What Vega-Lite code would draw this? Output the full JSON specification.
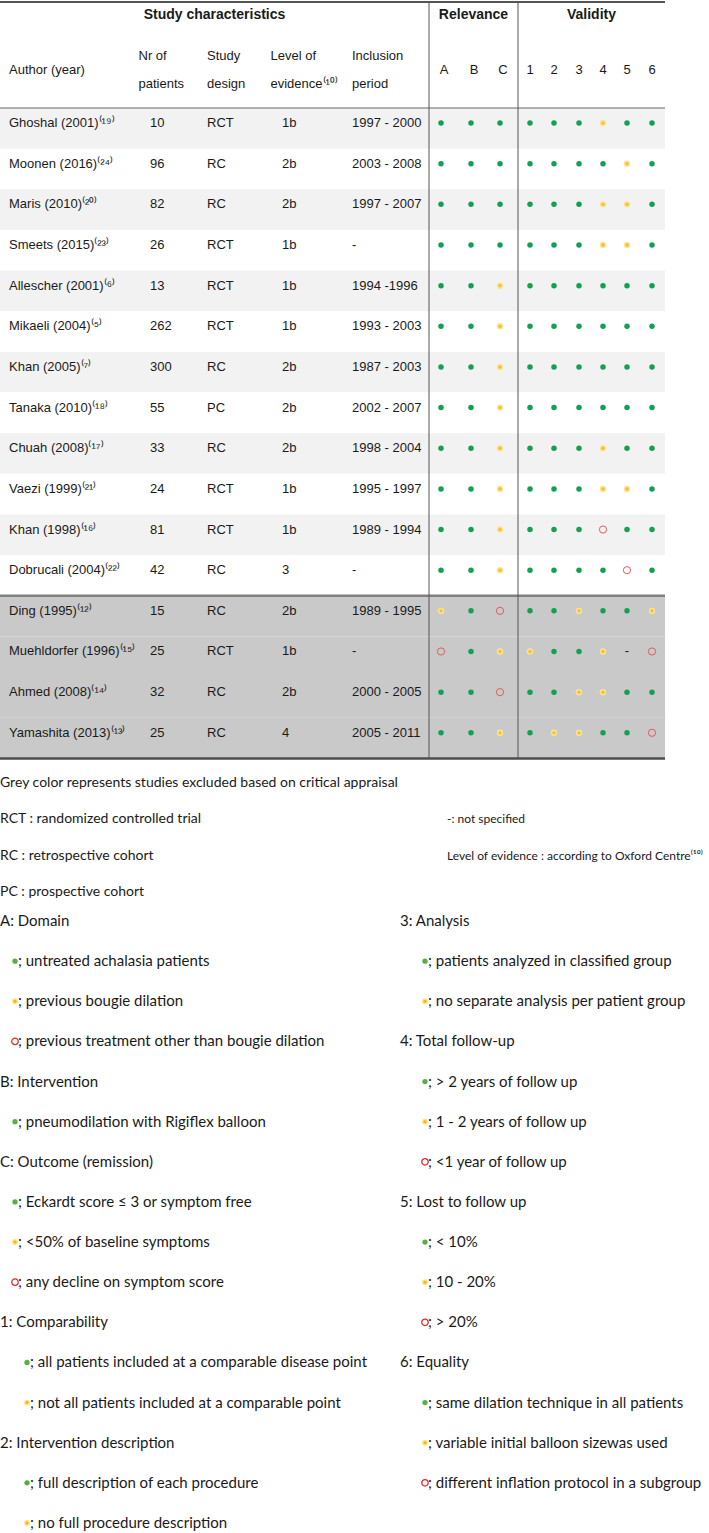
{
  "$schema": "https://vega.github.io/schema/vega-lite/v6.json",
  "width": 709,
  "height": 1533,
  "autosize": {"type": "none"},
  "padding": 0,
  "background": "#ffffff",
  "config": {"view": {"stroke": null}, "legend": {"disable": true}},
  "datasets": {
    "studies": [
      {"study": "Ghoshal (2001)⁽¹⁹⁾", "n": "10", "design": "RCT", "loe": "1b", "period": "1997 - 2000", "status": "included", "A": "met", "B": "met", "C": "met", "v1": "met", "v2": "met", "v3": "met", "v4": "partly", "v5": "met", "v6": "met"},
      {"study": "Moonen (2016)⁽²⁴⁾", "n": "96", "design": "RC", "loe": "2b", "period": "2003 - 2008", "status": "included", "A": "met", "B": "met", "C": "met", "v1": "met", "v2": "met", "v3": "met", "v4": "met", "v5": "partly", "v6": "met"},
      {"study": "Maris (2010)⁽²⁰⁾", "n": "82", "design": "RC", "loe": "2b", "period": "1997 - 2007", "status": "included", "A": "met", "B": "met", "C": "met", "v1": "met", "v2": "met", "v3": "met", "v4": "partly", "v5": "partly", "v6": "met"},
      {"study": "Smeets (2015)⁽²³⁾", "n": "26", "design": "RCT", "loe": "1b", "period": "-", "status": "included", "A": "met", "B": "met", "C": "met", "v1": "met", "v2": "met", "v3": "met", "v4": "partly", "v5": "partly", "v6": "met"},
      {"study": "Allescher (2001)⁽⁶⁾", "n": "13", "design": "RCT", "loe": "1b", "period": "1994 -1996", "status": "included", "A": "met", "B": "met", "C": "partly", "v1": "met", "v2": "met", "v3": "met", "v4": "met", "v5": "met", "v6": "met"},
      {"study": "Mikaeli (2004)⁽⁵⁾", "n": "262", "design": "RCT", "loe": "1b", "period": "1993 - 2003", "status": "included", "A": "met", "B": "met", "C": "partly", "v1": "met", "v2": "met", "v3": "met", "v4": "met", "v5": "met", "v6": "met"},
      {"study": "Khan (2005)⁽⁷⁾", "n": "300", "design": "RC", "loe": "2b", "period": "1987 - 2003", "status": "included", "A": "met", "B": "met", "C": "partly", "v1": "met", "v2": "met", "v3": "met", "v4": "met", "v5": "met", "v6": "met"},
      {"study": "Tanaka (2010)⁽¹⁸⁾", "n": "55", "design": "PC", "loe": "2b", "period": "2002 - 2007", "status": "included", "A": "met", "B": "met", "C": "partly", "v1": "met", "v2": "met", "v3": "met", "v4": "met", "v5": "met", "v6": "met"},
      {"study": "Chuah (2008)⁽¹⁷⁾", "n": "33", "design": "RC", "loe": "2b", "period": "1998 - 2004", "status": "included", "A": "met", "B": "met", "C": "partly", "v1": "met", "v2": "met", "v3": "met", "v4": "partly", "v5": "met", "v6": "met"},
      {"study": "Vaezi (1999)⁽²¹⁾", "n": "24", "design": "RCT", "loe": "1b", "period": "1995 - 1997", "status": "included", "A": "met", "B": "met", "C": "partly", "v1": "met", "v2": "met", "v3": "met", "v4": "partly", "v5": "partly", "v6": "met"},
      {"study": "Khan (1998)⁽¹⁶⁾", "n": "81", "design": "RCT", "loe": "1b", "period": "1989 - 1994", "status": "included", "A": "met", "B": "met", "C": "partly", "v1": "met", "v2": "met", "v3": "met", "v4": "not met", "v5": "met", "v6": "met"},
      {"study": "Dobrucali (2004)⁽²²⁾", "n": "42", "design": "RC", "loe": "3", "period": "-", "status": "included", "A": "met", "B": "met", "C": "partly", "v1": "met", "v2": "met", "v3": "met", "v4": "met", "v5": "not met", "v6": "met"},
      {"study": "Ding (1995)⁽¹²⁾", "n": "15", "design": "RC", "loe": "2b", "period": "1989 - 1995", "status": "excluded", "A": "partly", "B": "met", "C": "not met", "v1": "met", "v2": "met", "v3": "partly", "v4": "met", "v5": "met", "v6": "partly"},
      {"study": "Muehldorfer (1996)⁽¹⁵⁾", "n": "25", "design": "RCT", "loe": "1b", "period": "-", "status": "excluded", "A": "not met", "B": "met", "C": "partly", "v1": "partly", "v2": "met", "v3": "met", "v4": "partly", "v5": "not specified", "v6": "not met"},
      {"study": "Ahmed (2008)⁽¹⁴⁾", "n": "32", "design": "RC", "loe": "2b", "period": "2000 - 2005", "status": "excluded", "A": "met", "B": "met", "C": "not met", "v1": "met", "v2": "met", "v3": "partly", "v4": "partly", "v5": "met", "v6": "met"},
      {"study": "Yamashita (2013)⁽¹³⁾", "n": "25", "design": "RC", "loe": "4", "period": "2005 - 2011", "status": "excluded", "A": "met", "B": "met", "C": "partly", "v1": "met", "v2": "partly", "v3": "partly", "v4": "met", "v5": "met", "v6": "not met"}
    ],
    "columns": [
      {"key": "study", "label": "Author (year)", "group": "Study characteristics", "slot": 1},
      {"key": "n", "label": "Nr of\npatients", "group": "Study characteristics", "slot": 2},
      {"key": "design", "label": "Study\ndesign", "group": "Study characteristics", "slot": 3},
      {"key": "loe", "label": "Level of\nevidence⁽¹⁰⁾", "group": "Study characteristics", "slot": 5},
      {"key": "period", "label": "Inclusion\nperiod", "group": "Study characteristics", "slot": 6},
      {"key": "A", "label": "A", "group": "Relevance", "slot": 8},
      {"key": "B", "label": "B", "group": "Relevance", "slot": 9},
      {"key": "C", "label": "C", "group": "Relevance", "slot": 11},
      {"key": "v1", "label": "1", "group": "Validity", "slot": 13},
      {"key": "v2", "label": "2", "group": "Validity", "slot": 14},
      {"key": "v3", "label": "3", "group": "Validity", "slot": 15},
      {"key": "v4", "label": "4", "group": "Validity", "slot": 17},
      {"key": "v5", "label": "5", "group": "Validity", "slot": 18},
      {"key": "v6", "label": "6", "group": "Validity", "slot": 19}
    ],
    "sections": [
      {"section": "Study characteristics", "titleSlot": 4, "startSlot": 0, "endSlot": 7},
      {"section": "Relevance", "titleSlot": 10, "startSlot": 7, "endSlot": 12},
      {"section": "Validity", "titleSlot": 16, "startSlot": 12, "endSlot": 20}
    ],
    "notes": [
      {"text": "Grey color represents studies excluded based on critical appraisal", "side": "left", "line": 1},
      {"text": "RCT : randomized controlled trial", "side": "left", "line": 2},
      {"text": "RC : retrospective cohort", "side": "left", "line": 3},
      {"text": "PC : prospective cohort", "side": "left", "line": 4},
      {"text": "-: not specified", "side": "right", "line": 2},
      {"text": "Level of evidence : according to Oxford Centre⁽¹⁰⁾", "side": "right", "line": 3}
    ],
    "key": [
      {"side": "left", "line": 5, "indent": 0, "symbol": "none", "text": "A: Domain"},
      {"side": "left", "line": 6, "indent": 1, "symbol": "met", "text": "; untreated achalasia patients"},
      {"side": "left", "line": 7, "indent": 1, "symbol": "partly", "text": "; previous bougie dilation"},
      {"side": "left", "line": 8, "indent": 1, "symbol": "not met", "text": "; previous treatment other than bougie dilation"},
      {"side": "left", "line": 9, "indent": 0, "symbol": "none", "text": "B: Intervention"},
      {"side": "left", "line": 10, "indent": 1, "symbol": "met", "text": "; pneumodilation with Rigiflex balloon"},
      {"side": "left", "line": 11, "indent": 0, "symbol": "none", "text": "C: Outcome (remission)"},
      {"side": "left", "line": 12, "indent": 1, "symbol": "met", "text": "; Eckardt score ≤ 3 or symptom free"},
      {"side": "left", "line": 13, "indent": 1, "symbol": "partly", "text": "; <50% of baseline symptoms"},
      {"side": "left", "line": 14, "indent": 1, "symbol": "not met", "text": "; any decline on symptom score"},
      {"side": "left", "line": 15, "indent": 0, "symbol": "none", "text": "1: Comparability"},
      {"side": "left", "line": 16, "indent": 2, "symbol": "met", "text": "; all patients included at a comparable disease point"},
      {"side": "left", "line": 17, "indent": 2, "symbol": "partly", "text": "; not all patients included at a comparable point"},
      {"side": "left", "line": 18, "indent": 0, "symbol": "none", "text": "2: Intervention description"},
      {"side": "left", "line": 19, "indent": 2, "symbol": "met", "text": "; full description of each procedure"},
      {"side": "left", "line": 20, "indent": 2, "symbol": "partly", "text": "; no full procedure description"},
      {"side": "right", "line": 5, "indent": 0, "symbol": "none", "text": "3: Analysis"},
      {"side": "right", "line": 6, "indent": 1, "symbol": "met", "text": "; patients analyzed in classified group"},
      {"side": "right", "line": 7, "indent": 1, "symbol": "partly", "text": "; no separate analysis per patient group"},
      {"side": "right", "line": 8, "indent": 0, "symbol": "none", "text": "4: Total follow-up"},
      {"side": "right", "line": 9, "indent": 1, "symbol": "met", "text": "; > 2 years of follow up"},
      {"side": "right", "line": 10, "indent": 1, "symbol": "partly", "text": "; 1 - 2 years of follow up"},
      {"side": "right", "line": 11, "indent": 1, "symbol": "not met", "text": "; <1 year of follow up"},
      {"side": "right", "line": 12, "indent": 0, "symbol": "none", "text": "5: Lost to follow up"},
      {"side": "right", "line": 13, "indent": 1, "symbol": "met", "text": "; < 10%"},
      {"side": "right", "line": 14, "indent": 1, "symbol": "partly", "text": "; 10 - 20%"},
      {"side": "right", "line": 15, "indent": 1, "symbol": "not met", "text": "; > 20%"},
      {"side": "right", "line": 16, "indent": 0, "symbol": "none", "text": "6: Equality"},
      {"side": "right", "line": 17, "indent": 1, "symbol": "met", "text": "; same dilation technique in all patients"},
      {"side": "right", "line": 18, "indent": 1, "symbol": "partly", "text": "; variable initial balloon sizewas used"},
      {"side": "right", "line": 19, "indent": 1, "symbol": "not met", "text": "; different inflation protocol in a subgroup"}
    ]
  },
  "layer": [
    {
      "data": {"name": "studies"},
      "layer": [
        {
          "transform": [{"window": [{"op": "row_number", "as": "k"}]}],
          "mark": {"type": "rect"},
          "encoding": {
            "y": {"field": "study", "type": "nominal", "sort": null, "axis": null, "scale": {"type": "band", "range": [108, 758.4], "paddingInner": 0, "paddingOuter": 0}},
            "x": {"datum": 0, "type": "quantitative", "axis": null, "scale": {"type": "linear", "domain": [0,1,2,3,4,5,6,7,8,9,10,11,12,13,14,15,16,17,18,19,20], "range": [0,9,150,207,214.5,282,352,429,441,471,473.5,500,518,530,554,579,591.5,603,627,652,665], "zero": false, "nice": false}},
            "x2": {"datum": 20},
            "color": {"field": "k", "type": "ordinal", "legend": null, "scale": {"domain": [1,2,3,4,5,6,7,8,9,10,11,12,13,14,15,16], "range": ["#f2f2f2","#ffffff","#f2f2f2","#ffffff","#f2f2f2","#ffffff","#f2f2f2","#ffffff","#f2f2f2","#ffffff","#f2f2f2","#ffffff","#c9c9c9","#c9c9c9","#c9c9c9","#c9c9c9"]}}
          }
        },
        {
          "transform": [
            {"fold": ["study", "n", "design", "loe", "period"], "as": ["col", "value"]},
            {"lookup": "col", "from": {"data": {"values": [{"key": "study", "slot": 1}, {"key": "n", "slot": 2}, {"key": "design", "slot": 3}, {"key": "loe", "slot": 5}, {"key": "period", "slot": 6}]}, "key": "key", "fields": ["slot"]}}
          ],
          "mark": {"type": "text", "align": "left", "baseline": "middle", "font": "Liberation Sans, Arial, sans-serif", "fontSize": 13, "fill": "#1a1a1a"},
          "encoding": {
            "y": {"field": "study", "type": "nominal", "sort": null, "bandPosition": 0.37, "axis": null, "scale": {"type": "band", "range": [108, 758.4], "paddingInner": 0, "paddingOuter": 0}},
            "x": {"field": "slot", "type": "quantitative", "axis": null, "scale": {"type": "linear", "domain": [0,1,2,3,4,5,6,7,8,9,10,11,12,13,14,15,16,17,18,19,20], "range": [0,9,150,207,214.5,282,352,429,441,471,473.5,500,518,530,554,579,591.5,603,627,652,665], "zero": false, "nice": false}},
            "text": {"field": "value"}
          }
        },
        {
          "transform": [
            {"fold": ["A", "B", "C", "v1", "v2", "v3", "v4", "v5", "v6"], "as": ["item", "score"]},
            {"filter": {"field": "score", "oneOf": ["met", "partly", "not met"]}},
            {"lookup": "item", "from": {"data": {"values": [{"key": "A", "slot": 8}, {"key": "B", "slot": 9}, {"key": "C", "slot": 11}, {"key": "v1", "slot": 13}, {"key": "v2", "slot": 14}, {"key": "v3", "slot": 15}, {"key": "v4", "slot": 17}, {"key": "v5", "slot": 18}, {"key": "v6", "slot": 19}]}, "key": "key", "fields": ["slot"]}}
          ],
          "mark": {"type": "point", "shape": "circle", "filled": true, "opacity": 1, "strokeWidth": 1},
          "encoding": {
            "y": {"field": "study", "type": "nominal", "sort": null, "bandPosition": 0.37, "axis": null, "scale": {"type": "band", "range": [108, 758.4], "paddingInner": 0, "paddingOuter": 0}},
            "x": {"field": "slot", "type": "quantitative", "axis": null, "scale": {"type": "linear", "domain": [0,1,2,3,4,5,6,7,8,9,10,11,12,13,14,15,16,17,18,19,20], "range": [0,9,150,207,214.5,282,352,429,441,471,473.5,500,518,530,554,579,591.5,603,627,652,665], "zero": false, "nice": false}},
            "fill": {"field": "score", "type": "nominal", "legend": null, "scale": {"domain": ["met", "partly", "not met"], "range": ["#12a150", "#fde38f", "transparent"]}},
            "stroke": {"field": "score", "type": "nominal", "legend": null, "scale": {"domain": ["met", "partly", "not met"], "range": ["transparent", "transparent", "#e05c5c"]}},
            "size": {"field": "score", "type": "nominal", "legend": null, "scale": {"domain": ["met", "partly", "not met"], "range": [30, 52, 34]}}
          }
        },
        {
          "transform": [
            {"fold": ["A", "B", "C", "v1", "v2", "v3", "v4", "v5", "v6"], "as": ["item", "score"]},
            {"filter": {"field": "score", "equal": "partly"}},
            {"lookup": "item", "from": {"data": {"values": [{"key": "A", "slot": 8}, {"key": "B", "slot": 9}, {"key": "C", "slot": 11}, {"key": "v1", "slot": 13}, {"key": "v2", "slot": 14}, {"key": "v3", "slot": 15}, {"key": "v4", "slot": 17}, {"key": "v5", "slot": 18}, {"key": "v6", "slot": 19}]}, "key": "key", "fields": ["slot"]}}
          ],
          "mark": {"type": "point", "shape": "circle", "filled": true, "opacity": 1, "fill": "#f3c02c", "size": 11},
          "encoding": {
            "y": {"field": "study", "type": "nominal", "sort": null, "bandPosition": 0.37, "axis": null, "scale": {"type": "band", "range": [108, 758.4], "paddingInner": 0, "paddingOuter": 0}},
            "x": {"field": "slot", "type": "quantitative", "axis": null, "scale": {"type": "linear", "domain": [0,1,2,3,4,5,6,7,8,9,10,11,12,13,14,15,16,17,18,19,20], "range": [0,9,150,207,214.5,282,352,429,441,471,473.5,500,518,530,554,579,591.5,603,627,652,665], "zero": false, "nice": false}}
          }
        },
        {
          "transform": [
            {"fold": ["A", "B", "C", "v1", "v2", "v3", "v4", "v5", "v6"], "as": ["item", "score"]},
            {"filter": {"field": "score", "equal": "not specified"}},
            {"lookup": "item", "from": {"data": {"values": [{"key": "A", "slot": 8}, {"key": "B", "slot": 9}, {"key": "C", "slot": 11}, {"key": "v1", "slot": 13}, {"key": "v2", "slot": 14}, {"key": "v3", "slot": 15}, {"key": "v4", "slot": 17}, {"key": "v5", "slot": 18}, {"key": "v6", "slot": 19}]}, "key": "key", "fields": ["slot"]}}
          ],
          "mark": {"type": "text", "align": "center", "baseline": "middle", "font": "Liberation Sans, Arial, sans-serif", "fontSize": 13, "fill": "#1a1a1a", "text": "-"},
          "encoding": {
            "y": {"field": "study", "type": "nominal", "sort": null, "bandPosition": 0.37, "axis": null, "scale": {"type": "band", "range": [108, 758.4], "paddingInner": 0, "paddingOuter": 0}},
            "x": {"field": "slot", "type": "quantitative", "axis": null, "scale": {"type": "linear", "domain": [0,1,2,3,4,5,6,7,8,9,10,11,12,13,14,15,16,17,18,19,20], "range": [0,9,150,207,214.5,282,352,429,441,471,473.5,500,518,530,554,579,591.5,603,627,652,665], "zero": false, "nice": false}}
          }
        }
      ]
    },
    {
      "layer": [
        {
          "data": {"name": "sections"},
          "mark": {"type": "rule", "stroke": "#555555", "strokeWidth": 2},
          "encoding": {
            "x": {"field": "startSlot", "type": "quantitative", "axis": null, "scale": {"type": "linear", "domain": [0,1,2,3,4,5,6,7,8,9,10,11,12,13,14,15,16,17,18,19,20], "range": [0,9,150,207,214.5,282,352,429,441,471,473.5,500,518,530,554,579,591.5,603,627,652,665], "zero": false, "nice": false}},
            "x2": {"field": "endSlot"},
            "y": {"datum": -2, "type": "quantitative", "axis": null, "scale": {"type": "linear", "domain": [-2, 0, 16], "range": [2, 108, 758.4], "zero": false, "nice": false}}
          }
        },
        {
          "data": {"name": "sections"},
          "mark": {"type": "rule", "stroke": "#666666", "strokeWidth": 1.2},
          "encoding": {
            "x": {"field": "startSlot", "type": "quantitative", "axis": null, "scale": {"type": "linear", "domain": [0,1,2,3,4,5,6,7,8,9,10,11,12,13,14,15,16,17,18,19,20], "range": [0,9,150,207,214.5,282,352,429,441,471,473.5,500,518,530,554,579,591.5,603,627,652,665], "zero": false, "nice": false}},
            "x2": {"field": "endSlot"},
            "y": {"datum": 0, "type": "quantitative", "axis": null, "scale": {"type": "linear", "domain": [-2, 0, 16], "range": [2, 108, 758.4], "zero": false, "nice": false}}
          }
        },
        {
          "data": {"name": "studies"},
          "transform": [
            {"filter": {"field": "status", "equal": "included"}},
            {"aggregate": [{"op": "count", "as": "nIncluded"}]}
          ],
          "mark": {"type": "rule", "stroke": "#808080", "strokeWidth": 2.5},
          "encoding": {
            "x": {"datum": 0, "type": "quantitative", "axis": null, "scale": {"type": "linear", "domain": [0,1,2,3,4,5,6,7,8,9,10,11,12,13,14,15,16,17,18,19,20], "range": [0,9,150,207,214.5,282,352,429,441,471,473.5,500,518,530,554,579,591.5,603,627,652,665], "zero": false, "nice": false}},
            "x2": {"datum": 20},
            "y": {"field": "nIncluded", "type": "quantitative", "axis": null, "scale": {"type": "linear", "domain": [-2, 0, 16], "range": [2, 108, 758.4], "zero": false, "nice": false}}
          }
        },
        {
          "data": {"name": "studies"},
          "transform": [{"aggregate": [{"op": "count", "as": "nStudies"}]}],
          "mark": {"type": "rule", "stroke": "#4d4d4d", "strokeWidth": 2.5},
          "encoding": {
            "x": {"datum": 0, "type": "quantitative", "axis": null, "scale": {"type": "linear", "domain": [0,1,2,3,4,5,6,7,8,9,10,11,12,13,14,15,16,17,18,19,20], "range": [0,9,150,207,214.5,282,352,429,441,471,473.5,500,518,530,554,579,591.5,603,627,652,665], "zero": false, "nice": false}},
            "x2": {"datum": 20},
            "y": {"field": "nStudies", "type": "quantitative", "axis": null, "scale": {"type": "linear", "domain": [-2, 0, 16], "range": [2, 108, 758.4], "zero": false, "nice": false}}
          }
        },
        {
          "data": {"name": "sections"},
          "transform": [{"filter": "datum.startSlot > 0"}],
          "mark": {"type": "rule", "stroke": "#555555", "strokeWidth": 1},
          "encoding": {
            "x": {"field": "startSlot", "type": "quantitative", "axis": null, "scale": {"type": "linear", "domain": [0,1,2,3,4,5,6,7,8,9,10,11,12,13,14,15,16,17,18,19,20], "range": [0,9,150,207,214.5,282,352,429,441,471,473.5,500,518,530,554,579,591.5,603,627,652,665], "zero": false, "nice": false}},
            "y": {"datum": -2, "type": "quantitative", "axis": null, "scale": {"type": "linear", "domain": [-2, 0, 16], "range": [2, 108, 758.4], "zero": false, "nice": false}},
            "y2": {"datum": 16}
          }
        },
        {
          "data": {"name": "sections"},
          "mark": {"type": "text", "align": "center", "baseline": "middle", "dy": 13, "font": "Liberation Sans, Arial, sans-serif", "fontSize": 14, "fontWeight": "bold", "fill": "#1a1a1a"},
          "encoding": {
            "x": {"field": "titleSlot", "type": "quantitative", "axis": null, "scale": {"type": "linear", "domain": [0,1,2,3,4,5,6,7,8,9,10,11,12,13,14,15,16,17,18,19,20], "range": [0,9,150,207,214.5,282,352,429,441,471,473.5,500,518,530,554,579,591.5,603,627,652,665], "zero": false, "nice": false}},
            "y": {"datum": -2, "type": "quantitative", "axis": null, "scale": {"type": "linear", "domain": [-2, 0, 16], "range": [2, 108, 758.4], "zero": false, "nice": false}},
            "text": {"field": "section"}
          }
        },
        {
          "data": {"name": "columns"},
          "transform": [{"filter": {"field": "key", "equal": "study"}}],
          "mark": {"type": "text", "align": "left", "baseline": "middle", "dy": 15, "font": "Liberation Sans, Arial, sans-serif", "fontSize": 13, "fill": "#1a1a1a"},
          "encoding": {
            "x": {"field": "slot", "type": "quantitative", "axis": null, "scale": {"type": "linear", "domain": [0,1,2,3,4,5,6,7,8,9,10,11,12,13,14,15,16,17,18,19,20], "range": [0,9,150,207,214.5,282,352,429,441,471,473.5,500,518,530,554,579,591.5,603,627,652,665], "zero": false, "nice": false}},
            "y": {"datum": -1, "type": "quantitative", "axis": null, "scale": {"type": "linear", "domain": [-2, 0, 16], "range": [2, 108, 758.4], "zero": false, "nice": false}},
            "text": {"field": "label"}
          }
        },
        {
          "data": {"name": "columns"},
          "transform": [{"filter": {"field": "key", "oneOf": ["design", "period"]}}],
          "mark": {"type": "text", "align": "left", "baseline": "middle", "dy": 1, "lineBreak": "\n", "lineHeight": 28, "font": "Liberation Sans, Arial, sans-serif", "fontSize": 13, "fill": "#1a1a1a"},
          "encoding": {
            "x": {"field": "slot", "type": "quantitative", "axis": null, "scale": {"type": "linear", "domain": [0,1,2,3,4,5,6,7,8,9,10,11,12,13,14,15,16,17,18,19,20], "range": [0,9,150,207,214.5,282,352,429,441,471,473.5,500,518,530,554,579,591.5,603,627,652,665], "zero": false, "nice": false}},
            "y": {"datum": -1, "type": "quantitative", "axis": null, "scale": {"type": "linear", "domain": [-2, 0, 16], "range": [2, 108, 758.4], "zero": false, "nice": false}},
            "text": {"field": "label"}
          }
        },
        {
          "data": {"name": "columns"},
          "transform": [{"filter": {"field": "key", "oneOf": ["n", "loe"]}}],
          "mark": {"type": "text", "align": "left", "baseline": "middle", "dy": 1, "dx": -11.5, "lineBreak": "\n", "lineHeight": 28, "font": "Liberation Sans, Arial, sans-serif", "fontSize": 13, "fill": "#1a1a1a"},
          "encoding": {
            "x": {"field": "slot", "type": "quantitative", "axis": null, "scale": {"type": "linear", "domain": [0,1,2,3,4,5,6,7,8,9,10,11,12,13,14,15,16,17,18,19,20], "range": [0,9,150,207,214.5,282,352,429,441,471,473.5,500,518,530,554,579,591.5,603,627,652,665], "zero": false, "nice": false}},
            "y": {"datum": -1, "type": "quantitative", "axis": null, "scale": {"type": "linear", "domain": [-2, 0, 16], "range": [2, 108, 758.4], "zero": false, "nice": false}},
            "text": {"field": "label"}
          }
        },
        {
          "data": {"name": "columns"},
          "transform": [{"filter": {"field": "group", "equal": "Relevance"}}],
          "mark": {"type": "text", "align": "center", "baseline": "middle", "dy": 14.5, "dx": 3, "font": "Liberation Sans, Arial, sans-serif", "fontSize": 13, "fill": "#1a1a1a"},
          "encoding": {
            "x": {"field": "slot", "type": "quantitative", "axis": null, "scale": {"type": "linear", "domain": [0,1,2,3,4,5,6,7,8,9,10,11,12,13,14,15,16,17,18,19,20], "range": [0,9,150,207,214.5,282,352,429,441,471,473.5,500,518,530,554,579,591.5,603,627,652,665], "zero": false, "nice": false}},
            "y": {"datum": -1, "type": "quantitative", "axis": null, "scale": {"type": "linear", "domain": [-2, 0, 16], "range": [2, 108, 758.4], "zero": false, "nice": false}},
            "text": {"field": "label"}
          }
        },
        {
          "data": {"name": "columns"},
          "transform": [{"filter": {"field": "group", "equal": "Validity"}}],
          "mark": {"type": "text", "align": "center", "baseline": "middle", "dy": 14.5, "font": "Liberation Sans, Arial, sans-serif", "fontSize": 13, "fill": "#1a1a1a"},
          "encoding": {
            "x": {"field": "slot", "type": "quantitative", "axis": null, "scale": {"type": "linear", "domain": [0,1,2,3,4,5,6,7,8,9,10,11,12,13,14,15,16,17,18,19,20], "range": [0,9,150,207,214.5,282,352,429,441,471,473.5,500,518,530,554,579,591.5,603,627,652,665], "zero": false, "nice": false}},
            "y": {"datum": -1, "type": "quantitative", "axis": null, "scale": {"type": "linear", "domain": [-2, 0, 16], "range": [2, 108, 758.4], "zero": false, "nice": false}},
            "text": {"field": "label"}
          }
        }
      ]
    },
    {
      "data": {"name": "notes"},
      "mark": {"type": "text", "align": "left", "baseline": "middle", "font": "Lato", "fontSize": 14, "fill": "#1a1a1a"},
      "encoding": {
        "x": {"field": "side", "type": "nominal", "axis": null, "scale": {"type": "point", "domain": ["left", "right"], "range": [0, 447], "padding": 0}},
        "y": {"field": "line", "type": "quantitative", "axis": null, "scale": {"type": "linear", "domain": [1, 4, 5, 20], "range": [783, 892, 921, 1523], "zero": false, "nice": false}},
        "text": {"field": "text"},
        "size": {"field": "side", "type": "nominal", "legend": null, "scale": {"domain": ["left", "right"], "range": [14, 12]}}
      }
    },
    {
      "data": {"name": "key"},
      "transform": [{"filter": {"field": "side", "equal": "left"}}],
      "layer": [
        {
          "mark": {"type": "text", "align": "left", "baseline": "middle", "dx": 3, "font": "Lato", "fontSize": 15, "fill": "#1a1a1a"},
          "encoding": {
            "x": {"field": "indent", "type": "quantitative", "axis": null, "scale": {"type": "linear", "domain": [0, 1, 2], "range": [-3, 15, 27], "zero": false, "nice": false}},
            "y": {"field": "line", "type": "quantitative", "axis": null, "scale": {"type": "linear", "domain": [1, 4, 5, 20], "range": [783, 892, 921, 1523], "zero": false, "nice": false}},
            "text": {"field": "text"}
          }
        },
        {
          "transform": [{"filter": {"field": "symbol", "oneOf": ["met", "partly", "not met"]}}],
          "mark": {"type": "point", "shape": "circle", "filled": true, "opacity": 1, "strokeWidth": 1.3},
          "encoding": {
            "x": {"field": "indent", "type": "quantitative", "axis": null, "scale": {"type": "linear", "domain": [0, 1, 2], "range": [-3, 15, 27], "zero": false, "nice": false}},
            "y": {"field": "line", "type": "quantitative", "axis": null, "scale": {"type": "linear", "domain": [1, 4, 5, 20], "range": [783, 892, 921, 1523], "zero": false, "nice": false}},
            "fill": {"field": "symbol", "type": "nominal", "legend": null, "scale": {"domain": ["met", "partly", "not met"], "range": ["#5aae48", "#fde28a", "transparent"]}},
            "stroke": {"field": "symbol", "type": "nominal", "legend": null, "scale": {"domain": ["met", "partly", "not met"], "range": ["transparent", "transparent", "#e02828"]}},
            "size": {"field": "symbol", "type": "nominal", "legend": null, "scale": {"domain": ["met", "partly", "not met"], "range": [28, 42, 36]}}
          }
        },
        {
          "transform": [{"filter": {"field": "symbol", "equal": "partly"}}],
          "mark": {"type": "point", "shape": "circle", "filled": true, "opacity": 1, "fill": "#f4b800", "size": 9},
          "encoding": {
            "x": {"field": "indent", "type": "quantitative", "axis": null, "scale": {"type": "linear", "domain": [0, 1, 2], "range": [-3, 15, 27], "zero": false, "nice": false}},
            "y": {"field": "line", "type": "quantitative", "axis": null, "scale": {"type": "linear", "domain": [1, 4, 5, 20], "range": [783, 892, 921, 1523], "zero": false, "nice": false}}
          }
        }
      ]
    },
    {
      "data": {"name": "key"},
      "transform": [{"filter": {"field": "side", "equal": "right"}}],
      "layer": [
        {
          "mark": {"type": "text", "align": "left", "baseline": "middle", "dx": 3, "font": "Lato", "fontSize": 15, "fill": "#1a1a1a"},
          "encoding": {
            "x": {"field": "indent", "type": "quantitative", "axis": null, "scale": {"type": "linear", "domain": [0, 1], "range": [397, 425], "zero": false, "nice": false}},
            "y": {"field": "line", "type": "quantitative", "axis": null, "scale": {"type": "linear", "domain": [1, 4, 5, 20], "range": [783, 892, 921, 1523], "zero": false, "nice": false}},
            "text": {"field": "text"}
          }
        },
        {
          "transform": [{"filter": {"field": "symbol", "oneOf": ["met", "partly", "not met"]}}],
          "mark": {"type": "point", "shape": "circle", "filled": true, "opacity": 1, "strokeWidth": 1.3},
          "encoding": {
            "x": {"field": "indent", "type": "quantitative", "axis": null, "scale": {"type": "linear", "domain": [0, 1], "range": [397, 425], "zero": false, "nice": false}},
            "y": {"field": "line", "type": "quantitative", "axis": null, "scale": {"type": "linear", "domain": [1, 4, 5, 20], "range": [783, 892, 921, 1523], "zero": false, "nice": false}},
            "fill": {"field": "symbol", "type": "nominal", "legend": null, "scale": {"domain": ["met", "partly", "not met"], "range": ["#5aae48", "#fde28a", "transparent"]}},
            "stroke": {"field": "symbol", "type": "nominal", "legend": null, "scale": {"domain": ["met", "partly", "not met"], "range": ["transparent", "transparent", "#e02828"]}},
            "size": {"field": "symbol", "type": "nominal", "legend": null, "scale": {"domain": ["met", "partly", "not met"], "range": [28, 42, 36]}}
          }
        },
        {
          "transform": [{"filter": {"field": "symbol", "equal": "partly"}}],
          "mark": {"type": "point", "shape": "circle", "filled": true, "opacity": 1, "fill": "#f4b800", "size": 9},
          "encoding": {
            "x": {"field": "indent", "type": "quantitative", "axis": null, "scale": {"type": "linear", "domain": [0, 1], "range": [397, 425], "zero": false, "nice": false}},
            "y": {"field": "line", "type": "quantitative", "axis": null, "scale": {"type": "linear", "domain": [1, 4, 5, 20], "range": [783, 892, 921, 1523], "zero": false, "nice": false}}
          }
        }
      ]
    }
  ],
  "resolve": {"scale": {"x": "independent", "y": "independent", "fill": "independent", "stroke": "independent", "size": "independent", "color": "independent"}}
}
